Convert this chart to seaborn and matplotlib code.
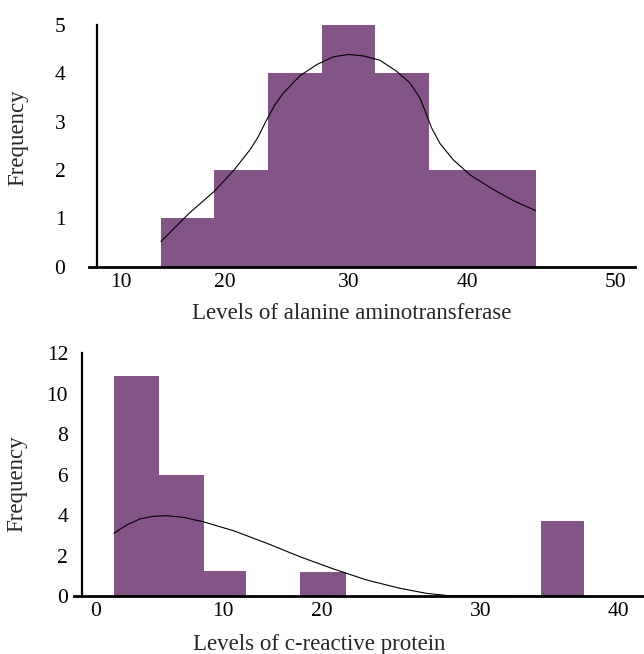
import numpy as np
import pandas as pd
import matplotlib
matplotlib.use("Agg")
import matplotlib.pyplot as plt
import seaborn as sns

# --- data ---
# alanine aminotransferase histogram (bin edges + counts)
alt_edges = [13.85, 18.95, 23.5, 27.85, 32.25, 36.8, 41.0, 44.65]
alt_counts = [1, 2, 4, 5, 4, 2, 2]
# fitted curve drawn over it
alt_curve_x = [13.86, 16.58, 18.98, 20.73, 22.03, 22.70, 23.38, 24.05, 24.73, 26.08,
               27.44, 28.78, 30.00, 31.26, 32.66, 34.07, 35.18, 36.02, 36.58, 37.00,
               37.70, 38.82, 40.18, 41.80, 43.16, 44.63]
alt_curve_y = [0.52, 1.11, 1.56, 2.0, 2.42, 2.69, 3.04, 3.35, 3.59, 3.95,
               4.18, 4.34, 4.39, 4.36, 4.27, 4.04, 3.80, 3.49, 3.14, 2.87,
               2.55, 2.21, 1.90, 1.59, 1.36, 1.16]
alt_ticks = [10, 20, 30, 40, 50]

# c-reactive protein histogram
crp_edges = [1.4, 4.95, 8.45, 12.3, 17.8, 21.5, 34.4, 37.5]
crp_counts = [10.9, 6.0, 1.25, 0, 1.2, 0, 3.7]
crp_curve_x = [1.43, 2.43, 3.47, 4.51, 5.56, 6.87, 8.43, 11.02, 14.41, 17.80,
               20.73, 22.83, 24.92, 26.60, 28.07, 37.5]
crp_curve_y = [3.10, 3.51, 3.81, 3.94, 3.97, 3.89, 3.67, 3.23, 2.61, 1.94,
               1.34, 0.79, 0.38, 0.13, 0.01, 0.0]
crp_ticks = [0, 10, 20, 30, 40]

# the original x axes are not evenly spaced, so each one gets a piecewise scale
alt_tick_pos = [120.7, 225, 348.3, 467.3, 615]
crp_tick_pos = [95.7, 223.3, 321.7, 480.7, 618.3]

bar_color = "#835486"


def piecewise(vals, pos):
    v = np.r_[2 * vals[0] - vals[1], vals, 2 * vals[-1] - vals[-2]].astype(float)
    p = np.r_[2 * pos[0] - pos[1], pos, 2 * pos[-1] - pos[-2]].astype(float)
    return (lambda x: np.interp(x, v, p)), (lambda y: np.interp(y, p, v))


sns.set_theme(style="white")
plt.rcParams["font.family"] = ["Liberation Serif", "DejaVu Serif"]
plt.rcParams["font.size"] = 15

fig = plt.figure(figsize=(6.44, 6.54), dpi=100)
ax1 = fig.add_axes([0.1382, 0.5922, 0.8478, 0.3696])
ax2 = fig.add_axes([0.1149, 0.0887, 0.8851, 0.3711])

panels = [
    (ax1, alt_edges, alt_counts, alt_curve_x, alt_curve_y, alt_ticks, alt_tick_pos,
     "Levels of alanine aminotransferase", (6.96, 51.35), 7.76, (0, 5), range(0, 6), 19),
    (ax2, crp_edges, crp_counts, crp_curve_x, crp_curve_y, crp_ticks, crp_tick_pos,
     "Levels of c-reactive protein", (-1.70, 41.87), -1.07, (0, 12), range(0, 13, 2), 6),
]

for ax, edges, counts, cx, cy, ticks, tpos, xlab, xlim, spine_x, ylim, yticks, ypad in panels:
    mids = [(a + b) / 2 for a, b in zip(edges[:-1], edges[1:])]
    hist_df = pd.DataFrame({"value": mids, "count": counts})
    sns.histplot(data=hist_df, x="value", weights="count", bins=list(edges),
                 color=bar_color, alpha=1, linewidth=0, ax=ax)
    sns.lineplot(x=cx, y=cy, color="black", linewidth=0.8, ax=ax)

    fwd, inv = piecewise(ticks, tpos)
    ax.set_xscale("function", functions=(fwd, inv))
    ax.set_xlim(*xlim)
    ax.set_ylim(*ylim)
    ax.set_xticks(ticks, [str(t) for t in ticks])
    ax.set_yticks(list(yticks))

    ax.spines["top"].set_visible(False)
    ax.spines["right"].set_visible(False)
    ax.spines["left"].set_position(("data", spine_x))
    ax.spines["left"].set_linewidth(1.6)
    ax.spines["bottom"].set_linewidth(2.0)
    ax.spines["left"].set_color("black")
    ax.spines["bottom"].set_color("black")

    ax.tick_params(axis="x", direction="out", length=2.5, width=0.6, pad=2,
                   labelsize=15.5, colors="black")
    ax.tick_params(axis="y", direction="out", length=4, width=1, pad=ypad,
                   labelsize=15.5, colors="black")

    ax.set_xlabel(xlab, fontsize=16.5)
    ax.set_ylabel("Frequency", fontsize=16.5)

ax1.xaxis.set_label_coords(0.4808, -0.151)
ax1.yaxis.set_label_coords(-0.1117, 0.532)
ax2.xaxis.set_label_coords(0.4298, -0.157)
ax2.yaxis.set_label_coords(-0.0816, 0.464)

fig.savefig("out.png", dpi=100)
